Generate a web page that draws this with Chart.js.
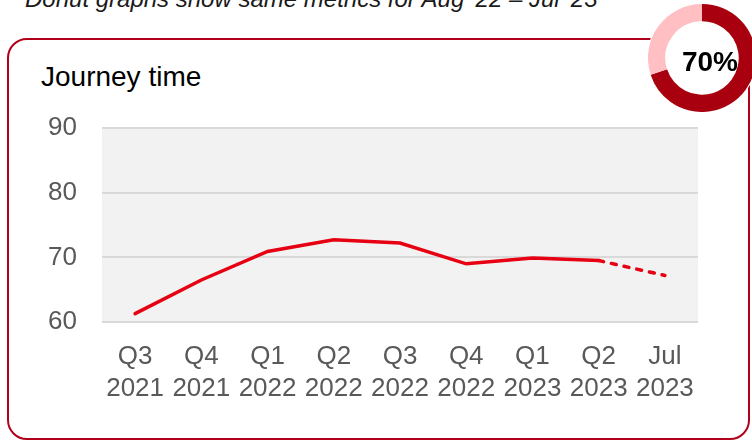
<!DOCTYPE html>
<html>
<head>
<meta charset="utf-8">
<script src="https://cdn.jsdelivr.net/npm/chart.js@4.4.0/dist/chart.umd.min.js"></script>
<style>
  body { margin: 0; width: 752px; height: 443px; overflow: hidden; background: #fff; position: relative; font-family: "Liberation Sans", Arial, sans-serif; }
  #note { position: absolute; left: 25px; top: -13px; font-size: 24px; line-height: 24px; font-style: italic; color: #1a1a1a; white-space: nowrap; }
  #box { position: absolute; left: 7px; top: 38px; width: 739px; height: 398px; border: 2px solid #b0001a; border-radius: 20px; }
  #title { position: absolute; left: 41px; top: 61px; font-size: 28px; line-height: 32px; color: #000; }
  #line-chart { position: absolute; left: 0; top: 0; }
  #donut-bg { position: absolute; left: 647px; top: 3px; width: 110px; height: 110px; border-radius: 50%; background: #fff; }
  #donut { position: absolute; left: 648px; top: 4px; }
  #pct { position: absolute; left: 670px; top: 45px; width: 80px; text-align: center; font-size: 28px; font-weight: bold; line-height: 34px; color: #000; }
</style>
</head>
<body>
<div id="note">Donut graphs show same metrics for Aug '22 – Jul '23</div>
<div id="box"></div>
<div id="title">Journey time</div>
<canvas id="line-chart" width="752" height="443"></canvas>
<div id="donut-bg"></div>
<canvas id="donut" width="108" height="108"></canvas>
<div id="pct">70%</div>

<script>
// Data
const quarters = [['Q3', '2021'], ['Q4', '2021'], ['Q1', '2022'], ['Q2', '2022'], ['Q3', '2022'],
                  ['Q4', '2022'], ['Q1', '2023'], ['Q2', '2023'], ['Jul', '2023']];
const journeyTime = [61.3, 66.5, 70.9, 72.7, 72.2, 69.0, 69.9, 69.5, 67.2];
const yTicks = [60, 70, 80, 90];
const donutValues = [70, 30];

const grey = '#595959';
const red = '#e60012';

// light grey plot background
const plotBg = {
    id: 'plotBg',
    beforeDraw(chart) {
        const { ctx, chartArea: a } = chart;
        ctx.save();
        ctx.fillStyle = '#f2f2f2';
        ctx.fillRect(a.left, a.top, a.right - a.left, a.bottom - a.top);
        ctx.restore();
    }
};

new Chart(document.getElementById('line-chart'), {
    type: 'line',
    data: {
        labels: quarters,
        datasets: [{
            data: journeyTime,
            borderColor: red,
            borderWidth: 3.5,
            borderCapStyle: 'round',
            pointRadius: 0,
            tension: 0,
            segment: {
                // last month is provisional -> dashed
                borderDash: ctx => ctx.p0DataIndex === journeyTime.length - 2 ? [5, 8] : undefined
            }
        }]
    },
    options: {
        responsive: false,
        animation: false,
        layout: { autoPadding: false, padding: { left: 0, right: 54, top: 128, bottom: 0 } },
        plugins: { legend: { display: false }, tooltip: { enabled: false } },
        scales: {
            x: {
                offset: true,
                grid: { display: false },
                border: { display: false },
                afterFit: axis => { axis.height = 121; },
                ticks: {
                    color: grey, padding: 11, maxRotation: 0, autoSkip: false,
                    font: { family: 'Liberation Sans', size: 26, lineHeight: 1.23 }
                }
            },
            y: {
                min: yTicks[0], max: yTicks[yTicks.length - 1],
                afterBuildTicks: axis => { axis.ticks = yTicks.map(v => ({ value: v })); },
                afterFit: axis => { axis.width = 102; },
                grid: { color: '#d9d9d9', lineWidth: 2, drawTicks: false },
                border: { display: false },
                ticks: {
                    color: grey, padding: 25,
                    font: { family: 'Liberation Sans', size: 26 }
                }
            }
        }
    },
    plugins: [plotBg]
});

new Chart(document.getElementById('donut'), {
    type: 'doughnut',
    data: {
        datasets: [{
            data: donutValues,
            backgroundColor: ['#a8000f', '#ffbfc3'],
            borderWidth: 0
        }]
    },
    options: {
        responsive: false,
        animation: false,
        cutout: '68%',
        plugins: { legend: { display: false }, tooltip: { enabled: false } }
    }
});
</script>
</body>
</html>
